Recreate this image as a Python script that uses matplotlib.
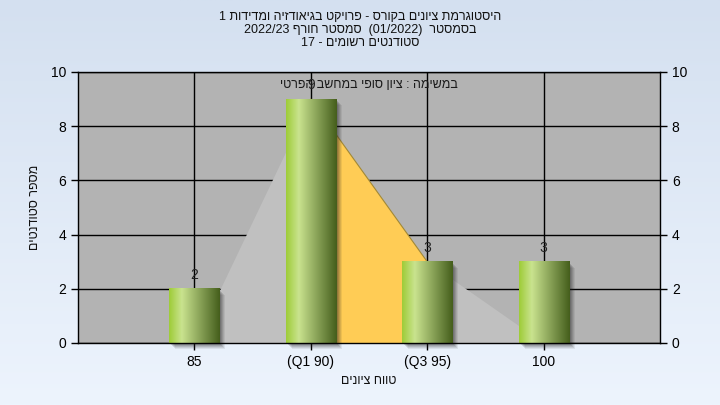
import re
import numpy as np
import matplotlib
matplotlib.use("Agg")
import matplotlib.pyplot as plt
from matplotlib.patches import Rectangle
from matplotlib.colors import LinearSegmentedColormap
import matplotlib.transforms as mtransforms

plt.rcParams['font.family'] = ['Liberation Sans', 'DejaVu Sans']

# ---------------- data ----------------
categories = ['85', '(Q1 90)', '(Q3 95)', '100']
counts = [2, 9, 3, 3]
outline_values = [0, 9, 3, 0]          # light grey area behind the bars
quartile_idx = [1, 2]                  # Q1..Q3 range (yellow area)
yticks = [0, 2, 4, 6, 8, 10]

title_lines = [
    "היסטוגרמת ציונים בקורס - פרויקט בגיאודזיה ומדידות 1",
    "בסמסטר  (01/2022)  סמסטר חורף 2022/23",
    "סטודנטים רשומים - 17",
]
inner_label = "במשימה : ציון סופי במחשב הפרטי"
xlabel = "טווח ציונים"
ylabel = "מספר סטודנטים"


def rtl(s):
    r = s[::-1]
    r = re.sub(r'[0-9A-Za-z/.]+', lambda m: m.group(0)[::-1], r)
    return r.translate(str.maketrans('()', ')('))


W, H = 720, 405
fig = plt.figure(figsize=(W / 100, H / 100), dpi=100)

# background gradient
bg = fig.add_axes([0, 0, 1, 1], zorder=-10)
top_c = np.array([212, 224, 240]) / 255
bot_c = np.array([237, 244, 253]) / 255
t = np.linspace(0, 1, 256)[:, None]
grad = top_c[None, None, :] * (1 - t[..., None]) + bot_c[None, None, :] * t[..., None]
grad = np.repeat(grad, 2, axis=1)
bg.imshow(grad, aspect='auto', extent=[0, 1, 0, 1])
bg.axis('off')

L, R, T, B = 78, 660, 72, 343
ax = fig.add_axes([L / W, 1 - B / H, (R - L) / W, (B - T) / H])
ax.set_facecolor('#b3b3b3')

x = np.arange(1, len(categories) + 1)

# grid
for yv in yticks:
    ax.axhline(yv, color='black', lw=1.0, zorder=1)
for xv in x:
    ax.axvline(xv, color='black', lw=1.0, zorder=1)

# grey area
ax.fill_between(x, outline_values, 0, color='#c0c0c0', lw=0, zorder=2)
# yellow quartile area
qx = x[quartile_idx]
qy = [outline_values[i] for i in quartile_idx]
ax.fill_between(qx, qy, 0, color='#ffcc55', lw=0, zorder=3)
ax.plot(qx, qy, color='#a08838', lw=0.8, zorder=3)

# bars with gradient and shadow
bw = 0.43
cmap = LinearSegmentedColormap.from_list('bar', [
    (0.0, (0.62, 0.80, 0.22)),
    (0.25, (0.79, 0.89, 0.56)),
    (0.55, (0.58, 0.68, 0.38)),
    (1.0, (0.27, 0.37, 0.11)),
])
gimg = np.linspace(0, 1, 200)[None, :]
for xi, c in zip(x, counts):
    for k, a in zip(range(6, 0, -1), [0.08, 0.1, 0.12, 0.14, 0.16, 0.18]):
        off = mtransforms.ScaledTranslation(k * 0.01, -k * 0.01, fig.dpi_scale_trans)
        sh = Rectangle((xi - bw / 2, 0), bw, c, facecolor='#202020', alpha=a,
                       lw=0, zorder=4, transform=ax.transData + off, clip_on=False)
        ax.add_patch(sh)
    ax.imshow(gimg, cmap=cmap, aspect='auto',
              extent=[xi - bw / 2, xi + bw / 2, 0, c], zorder=5, interpolation='bilinear')
    ax.text(xi, c + 0.25, str(c), ha='center', va='bottom', fontsize=10,
            color='#222222', zorder=6)

ax.text(2.5, 0.952, rtl(inner_label), transform=ax.get_xaxis_transform() if False else ax.transAxes,
        ha='center', va='center', fontsize=9, color='#1a1a1a', zorder=7) if False else None
ax.text(0.5, 0.952, rtl(inner_label), transform=ax.transAxes,
        ha='center', va='center', fontsize=9, color='#1a1a1a', zorder=7)

ax.set_xlim(0, 5)
ax.set_ylim(0, 10)
ax.set_xticks(x)
ax.set_xticklabels(categories, fontsize=10)
ax.set_yticks(yticks)
ax.tick_params(axis='both', direction='out', length=5, width=1, labelsize=10,
               colors='black')
ax.tick_params(axis='y', right=True, labelright=True)
for s in ax.spines.values():
    s.set_color('black')
    s.set_linewidth(1)
    s.set_zorder(8)

fig.text((L + R) / 2 / W - 0.0, 1 - 381 / H, rtl(xlabel), ha='center', va='center',
         fontsize=9, color='#111111')
fig.text(35 / W, 1 - 207 / H, rtl(ylabel), ha='center', va='center', rotation=90,
         fontsize=9, color='#111111')

for yy, line in zip([17, 30, 43], title_lines):
    fig.text(0.5, 1 - yy / H, rtl(line), ha='center', va='center', fontsize=9,
             color='#111111')

fig.savefig('out.png', dpi=100)
